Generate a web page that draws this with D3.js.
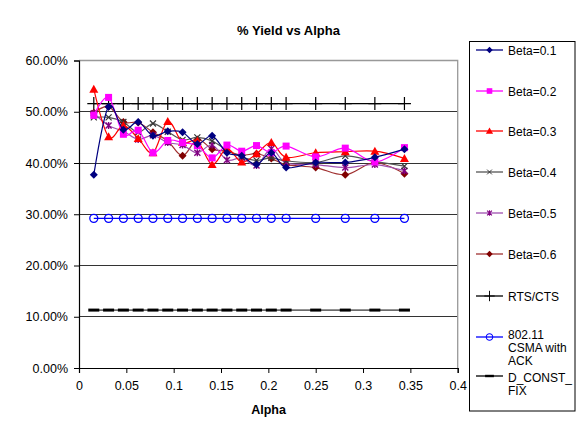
<!DOCTYPE html>
<html><head><meta charset="utf-8">
<script src="https://cdn.jsdelivr.net/npm/d3@7"></script>
<style>
body{margin:0;background:#fff;}
svg text{font-family:"Liberation Sans",Arial,sans-serif;fill:#000;}
</style></head>
<body><svg id="c" width="581" height="425"></svg>
<script>
// ---- data ----
const alpha = [1,2,3,4,5,6,7,8,9,10,11,12,13,14,16,18,20,22].map(d=>d/64);
const beta01 = [37.7,51.0,46.5,48.0,45.3,46.2,46.0,43.7,45.3,42.0,41.4,39.7,42.0,39.1,40.1,40.1,41.1,42.7];
const beta02 = [49.3,52.8,45.6,46.4,42.0,44.4,44.0,43.4,41.0,43.5,42.3,43.4,42.0,43.3,41.2,42.9,40.2,43.0];
const beta03 = [54.4,45.1,47.3,44.8,42.0,48.1,44.0,44.3,39.7,42.8,40.2,41.8,44.0,41.1,42.0,42.2,42.3,40.9];
const beta04 = [48.9,48.9,48.0,46.0,47.7,46.1,44.5,45.0,44.3,42.5,41.2,40.5,41.0,40.4,40.1,41.4,40.3,39.4];
const beta05 = [49.7,47.3,46.2,44.6,45.4,44.0,43.5,42.0,43.5,40.6,41.0,39.5,42.8,40.0,39.7,39.1,39.7,38.5];
const beta06 = [49.8,51.0,48.0,47.9,46.0,44.3,41.4,44.6,42.7,42.3,41.5,41.8,40.9,39.7,39.1,37.7,40.1,37.9];
const rtsCts = alpha.map(()=>51.6);
const csmaAck = alpha.map(()=>29.2);
const dConstFix = alpha.map(()=>11.3);
const yTicks = [0,10,20,30,40,50,60];
const xTicks = [0,0.05,0.1,0.15,0.2,0.25,0.3,0.35,0.4];
const seriesNames = ["Beta=0.1","Beta=0.2","Beta=0.3","Beta=0.4","Beta=0.5","Beta=0.6","RTS/CTS","802.11 CSMA with ACK","D_CONST_FIX"];

const series = [
 {name:seriesNames[0], values:beta01, line:"#000080", mk:"#000080", shape:"diamond", smooth:true},
 {name:seriesNames[1], values:beta02, line:"#FF00FF", mk:"#FF00FF", shape:"square", smooth:true},
 {name:seriesNames[2], values:beta03, line:"#FF0000", mk:"#FF0000", shape:"triangle", smooth:true},
 {name:seriesNames[3], values:beta04, line:"#555555", mk:"#333333", shape:"x", smooth:true},
 {name:seriesNames[4], values:beta05, line:"#A050B0", mk:"#800080", shape:"star", smooth:true},
 {name:seriesNames[5], values:beta06, line:"#A03030", mk:"#800000", shape:"diamond", smooth:true},
 {name:seriesNames[6], values:rtsCts, line:"#000000", mk:"#000000", shape:"plus", smooth:false},
 {name:seriesNames[7], values:csmaAck, line:"#0000FF", mk:"#0000FF", shape:"circle", smooth:false},
 {name:seriesNames[8], values:dConstFix, line:"#000000", mk:"#000000", shape:"dash", smooth:false}
];

const svg = d3.select("#c");
const L=79, R=457.7, T=60.5, B=368;
const x = d3.scaleLinear().domain([0,0.4]).range([L,R]);
const y = d3.scaleLinear().domain([0,60]).range([B,T]);

// title
svg.append("text").attr("x",288.5).attr("y",35).attr("text-anchor","middle")
  .style("font-weight","bold").style("font-size","13px").text("% Yield vs Alpha");

// gridlines
svg.append("g").selectAll("line").data(yTicks.filter(d=>d>0&&d<60)).join("line")
  .attr("x1",L).attr("x2",R).attr("y1",d=>y(d)).attr("y2",d=>y(d))
  .attr("stroke","#333").attr("stroke-width",1).attr("shape-rendering","crispEdges");
// plot border top/right
svg.append("path").attr("d",`M${L},${T}H${R}V${B}`).attr("fill","none")
  .attr("stroke","#999").attr("stroke-width",1.3);

// axes
const yAxis = d3.axisLeft(y).tickValues(yTicks).tickSize(5).tickPadding(6)
  .tickFormat(d=>d3.format(".2f")(d)+"%");
const gy = svg.append("g").attr("transform",`translate(${L},0)`).call(yAxis);
const xAxis = d3.axisBottom(x).tickValues(xTicks).tickSize(5).tickPadding(8)
  .tickFormat(d=>d===0?"0":String(d));
const gx = svg.append("g").attr("transform",`translate(0,${B})`).call(xAxis);
[gx,gy].forEach(g=>{
  g.select(".domain").attr("stroke","#000").attr("stroke-width",1.2);
  g.selectAll(".tick line").attr("stroke","#000");
  g.selectAll("text").style("font-size","12.5px").style("font-family","Liberation Sans, Arial, sans-serif").attr("fill","#000");
});
svg.append("text").attr("x",268.5).attr("y",414).attr("text-anchor","middle")
  .style("font-weight","bold").style("font-size","12.5px").text("Alpha");

// marker drawer
function drawMarker(g, shape, color, cx, cy, k){
  k = k || 1;
  const s = g.append("g").attr("transform",`translate(${cx},${cy}) scale(${k})`);
  switch(shape){
    case "diamond": s.append("path").attr("d","M0,-4L4,0L0,4L-4,0Z").attr("fill",color); break;
    case "square": s.append("rect").attr("x",-3.5).attr("y",-3.5).attr("width",7).attr("height",7).attr("fill",color); break;
    case "triangle": s.append("path").attr("d","M0,-4.5L4.5,3.5L-4.5,3.5Z").attr("fill",color); break;
    case "x": s.append("path").attr("d","M-3,-3L3,3M-3,3L3,-3").attr("stroke",color).attr("stroke-width",1.2); break;
    case "star": s.append("path").attr("d","M-3,-3L3,3M-3,3L3,-3M0,-3.5V3.5").attr("stroke",color).attr("stroke-width",1.4); break;
    case "plus": s.append("path").attr("d","M0,-6.5V6.5M-6.5,0H6.5").attr("stroke",color).attr("stroke-width",1.2); break;
    case "circle": s.append("circle").attr("r",4).attr("fill","none").attr("stroke",color).attr("stroke-width",1.3); break;
    case "dash": s.append("rect").attr("x",-5.5).attr("y",-1.5).attr("width",11).attr("height",3).attr("fill",color); break;
  }
}

const plot = svg.append("g");
// draw in reverse so Beta=0.1 on top
series.slice().reverse().forEach(sr=>{
  const pts = alpha.map((a,i)=>[x(a), y(sr.values[i])]);
  const line = d3.line().curve(sr.smooth? d3.curveCatmullRom.alpha(0) : d3.curveLinear);
  plot.append("path").attr("d",line(pts)).attr("fill","none")
    .attr("stroke",sr.line).attr("stroke-width",sr.shape==="dash"?1:1.2);
  pts.forEach(p=>drawMarker(plot, sr.shape, sr.mk, p[0], p[1]));
});

// legend
svg.append("rect").attr("x",469.5).attr("y",41.5).attr("width",105.5).attr("height",369.5)
  .attr("fill","#fff").attr("stroke","#000").attr("stroke-width",1);
const legY = [50,91,131,172,213,254,296,337,376];
const legText = [["Beta=0.1"],["Beta=0.2"],["Beta=0.3"],["Beta=0.4"],["Beta=0.5"],["Beta=0.6"],["RTS/CTS"],["802.11","CSMA with","ACK"],["D_CONST_","FIX"]];
const legOff = [4.5,4.5,4.5,4.5,4.5,4.5,4.5,2,6];
const lg = svg.append("g");
series.forEach((sr,i)=>{
  const yy = legY[i];
  lg.append("line").attr("x1",476).attr("x2",503).attr("y1",yy).attr("y2",yy)
    .attr("stroke",sr.line).attr("stroke-width",1.3);
  drawMarker(lg, sr.shape, sr.mk, 489.5, yy, 0.8);
  const t = lg.append("text").attr("x",508).attr("y",yy+legOff[i]).style("font-size","12px");
  legText[i].forEach((s,j)=>t.append("tspan").attr("x",508).attr("dy",j===0?0:13).text(s));
});
</script></body></html>
